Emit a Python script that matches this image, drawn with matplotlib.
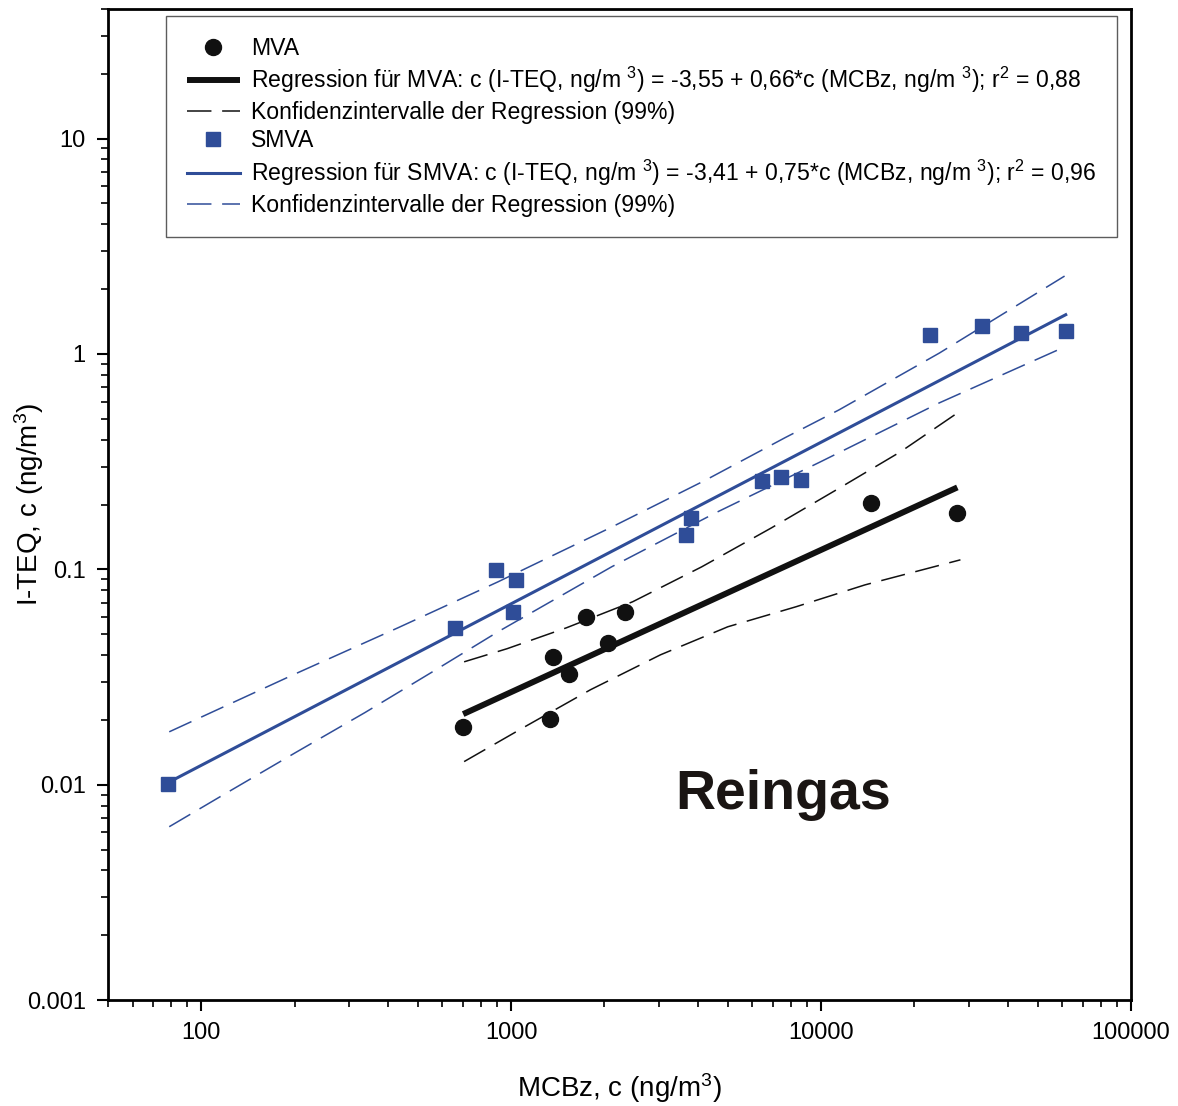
import matplotlib
matplotlib.use("Agg")
import matplotlib.pyplot as plt
import numpy as np
from matplotlib.ticker import LogLocator, FuncFormatter, NullFormatter

plt.rcParams["font.family"] = ["Liberation Sans", "DejaVu Sans"]
plt.rcParams["mathtext.fontset"] = "custom"
plt.rcParams["mathtext.rm"] = "Liberation Sans"
plt.rcParams["mathtext.default"] = "regular"

# MVA Messpunkte
mva_x = [700, 1336, 1368, 1542, 1750, 2061, 2338, 14520, 27540]
mva_y = [0.0186, 0.0202, 0.0393, 0.0327, 0.0602, 0.0456, 0.0635, 0.204, 0.183]

# SMVA Messpunkte
smva_x = [78.2, 659, 894, 1015, 1038, 3656, 3795, 6440, 7430, 8610, 22400, 32970, 44360, 61620]
smva_y = [0.0101, 0.0535, 0.0995, 0.0635, 0.0894, 0.1446, 0.1734, 0.2575, 0.2686, 0.26,
          1.225, 1.349, 1.25, 1.28]

# Regressionen (log10 y = a + b * log10 x)
mva_a, mva_b = -3.55, 0.66
smva_a, smva_b = -3.41, 0.75
mva_xbereich = [700, 27540]
smva_xbereich = [78.2, 61620]

# Konfidenzintervalle (99%)
mva_ko_x = [705, 970, 1507, 2467, 4120, 6930, 11610, 18030, 28180]
mva_ko_y = [0.0372, 0.0428, 0.0535, 0.0707, 0.1027, 0.156, 0.241, 0.351, 0.544]
mva_ku_x = [705, 1094, 1803, 3034, 5000, 8300, 13870, 28180]
mva_ku_y = [0.0128, 0.0184, 0.0276, 0.0401, 0.0541, 0.0670, 0.0847, 0.1107]

smva_ko_x = [78.8, 201, 431, 907, 2109, 4250, 7640, 11430, 24100, 61100]
smva_ko_y = [0.0176, 0.0327, 0.0535, 0.0875, 0.157, 0.260, 0.408, 0.550, 1.01, 2.30]
smva_ku_x = [78.8, 121, 201, 337, 551, 907, 2109, 4570, 9930, 24100, 61100]
smva_ku_y = [0.00638, 0.00918, 0.01407, 0.0216, 0.0331, 0.0513, 0.1027, 0.183, 0.315, 0.593, 1.078]

schwarz = "#111111"
blau = "#2f4d98"

fig = plt.figure(figsize=(11.78, 11.06), dpi=100)
ax = fig.add_axes([0.0917, 0.0958, 0.8683, 0.8961])

ax.plot(mva_x, mva_y, linestyle="none", marker="o", markersize=11.5,
        color=schwarz, label="MVA")
xr = np.array(mva_xbereich)
ax.plot(xr, 10 ** (mva_a + mva_b * np.log10(xr)), color=schwarz, linewidth=4.3,
        solid_capstyle="butt",
        label="Regression für MVA: c (I-TEQ, ng/m $^3$) = -3,55 + 0,66*c (MCBz, ng/m $^3$); r$^2$ = 0,88")
ax.plot(mva_ko_x, mva_ko_y, color=schwarz, linewidth=1.1, dashes=(16, 7),
        label="Konfidenzintervalle der Regression (99%)")
ax.plot(mva_ku_x, mva_ku_y, color=schwarz, linewidth=1.1, dashes=(16, 7))

ax.plot(smva_x, smva_y, linestyle="none", marker="s", markersize=10,
        color=blau, label="SMVA")
xr = np.array(smva_xbereich)
ax.plot(xr, 10 ** (smva_a + smva_b * np.log10(xr)), color=blau, linewidth=2.2,
        label="Regression für SMVA: c (I-TEQ, ng/m $^3$) = -3,41 + 0,75*c (MCBz, ng/m $^3$); r$^2$ = 0,96")
ax.plot(smva_ko_x, smva_ko_y, color=blau, linewidth=1.1, dashes=(16, 7),
        label="Konfidenzintervalle der Regression (99%)")
ax.plot(smva_ku_x, smva_ku_y, color=blau, linewidth=1.1, dashes=(16, 7))

ax.set_xscale("log")
ax.set_yscale("log")
ax.set_xlim(50, 100000)
ax.set_ylim(0.001, 40)

fmt = FuncFormatter(lambda v, p: "%g" % v)
ax.xaxis.set_major_formatter(fmt)
ax.yaxis.set_major_formatter(fmt)
ax.xaxis.set_minor_locator(LogLocator(base=10, subs=np.arange(2, 10), numticks=20))
ax.yaxis.set_minor_locator(LogLocator(base=10, subs=np.arange(2, 10), numticks=20))
ax.xaxis.set_minor_formatter(NullFormatter())
ax.yaxis.set_minor_formatter(NullFormatter())

ax.tick_params(which="major", direction="out", length=8, width=1.5, labelsize=17, pad=8)
ax.tick_params(which="minor", direction="out", length=5, width=1.2)
for s in ax.spines.values():
    s.set_linewidth(2)

ax.set_xlabel("MCBz, c (ng/m$^3$)", fontsize=20, va="center")
ax.set_ylabel("I-TEQ, c (ng/m$^3$)", fontsize=20, va="center")
ax.xaxis.set_label_coords(0.5, -0.089)
ax.yaxis.set_label_coords(-0.077, 0.5)

ax.text(0.66, 0.207, "Reingas", transform=ax.transAxes, fontsize=40,
        fontweight="bold", color="#1a1513", ha="center", va="center")

leg = ax.legend(loc="upper left", bbox_to_anchor=(0.0567, 0.993), fontsize=16.6,
                frameon=True, fancybox=False, edgecolor="#333333",
                handlelength=2.3, handletextpad=0.5, labelspacing=0.24,
                borderpad=0.9, borderaxespad=0)
leg.get_frame().set_linewidth(1)

fig.savefig("out.png", dpi=100)
